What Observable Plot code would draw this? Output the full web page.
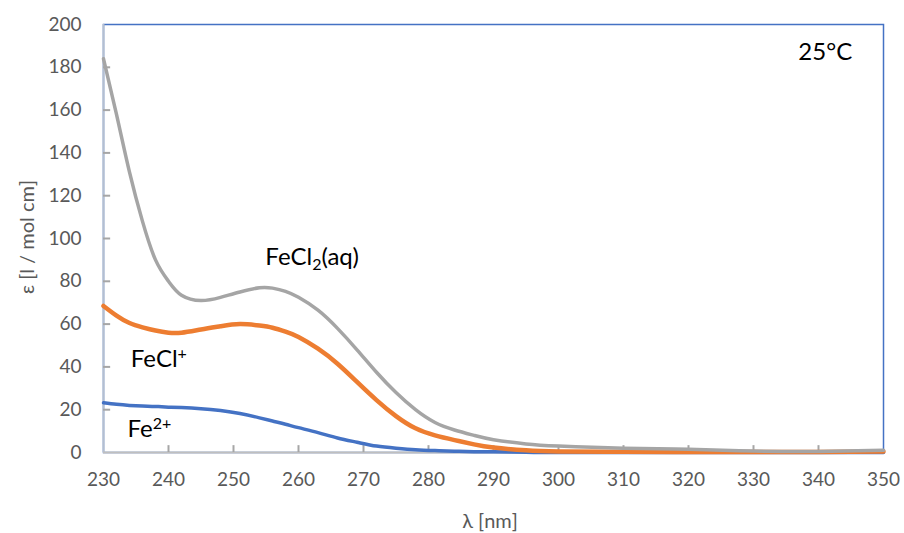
<!DOCTYPE html>
<html>
<head>
<meta charset="utf-8">
<script src="https://cdn.jsdelivr.net/npm/d3@7"></script>
<script src="https://cdn.jsdelivr.net/npm/@observablehq/plot@0.6"></script>
<style>
  html, body { margin: 0; padding: 0; background: #fff; }
  #chart svg { display: block; }
</style>
</head>
<body>
<div id="chart"></div>
<script>
const wavelengths = [230, 232, 234, 236, 238, 240, 242, 245, 248, 251, 254, 256, 258, 260, 263, 266, 269, 272, 275, 278, 281, 284, 287, 290, 295, 300, 310, 320, 330, 340, 350];
const feCl2 = [184, 158, 131, 108, 90, 80, 73.5, 71, 72.5, 75, 77, 76.8, 75.3, 72.5, 66.5, 58, 48, 37.5, 28, 20, 14, 10.5, 8, 6, 4, 3, 2, 1.5, 0.7, 0.5, 1];
const feCl = [68.5, 64, 60.5, 58.5, 57, 56, 56, 57.5, 59, 60, 59.3, 58.3, 56.5, 54, 48.5, 41.5, 33, 24.5, 17, 11.3, 8, 5.8, 3.8, 2.3, 1, 0.5, 0.3, 0.2, 0.2, 0.2, 0.5];
const fe2 = [23.2, 22.5, 22, 21.7, 21.5, 21.2, 21, 20.5, 19.6, 18.2, 16.2, 14.7, 13.2, 11.6, 9.3, 6.8, 4.8, 3.0, 2.0, 1.3, 0.9, 0.6, 0.4, 0.3, 0.1, 0, 0, 0, 0, 0, 0];
const seriesNames = ["FeCl2(aq)", "FeCl+", "Fe2+"];
const seriesColors = ["#a5a5a5", "#ed7d31", "#4472c4"];
const seriesWidths = [3.5, 4.5, 3.5];
const xTicks = [230, 240, 250, 260, 270, 280, 290, 300, 310, 320, 330, 340, 350];
const yTicks = [0, 20, 40, 60, 80, 100, 120, 140, 160, 180, 200];
const labels = [
  {x: 254.9, y: 91, text: "FeCl2(aq)"},
  {x: 234.2, y: 43.5, text: "FeCl+"},
  {x: 233.7, y: 11, text: "Fe2+"},
  {x: 336.9, y: 187, text: "25°C"}
];

const seriesValues = [feCl2, feCl, fe2];
const lineMarks = seriesValues.map((vals, i) =>
  Plot.line(wavelengths.map((w, j) => ({x: w, y: vals[j]})), {
    x: "x", y: "y", stroke: seriesColors[i], strokeWidth: seriesWidths[i], curve: "natural"
  })
).reverse();

const xMin = xTicks[0], yMin = yTicks[0];

const font = "Lato, 'Open Sans', sans-serif";
const chart = Plot.plot({
  width: 904,
  height: 533,
  marginLeft: 103,
  marginRight: 21,
  marginTop: 24,
  marginBottom: 81,
  style: {fontFamily: font, fontSize: "19px", color: "#595959", background: "#fff"},
  x: {domain: [230, 350]},
  y: {domain: [0, 200]},
  marks: [
    Plot.frame({stroke: "#4472c4", strokeWidth: 1.5}),
    Plot.ruleX([230], {stroke: "#b4bfd0", strokeWidth: 2}),
    Plot.ruleY([0], {stroke: "#bfbfbf", strokeWidth: 2}),
    Plot.ruleY(yTicks.slice(1, -1), {y: d => d, x1: xMin, x2: xMin + 1.1, stroke: "#a6a6a6", strokeWidth: 2}),
    Plot.ruleX(xTicks.slice(1, -1), {x: d => d, y1: yMin, y2: yMin + 3.2, stroke: "#a6a6a6", strokeWidth: 2}),
    Plot.axisY({ticks: yTicks, tickSize: 0, tickPadding: 22, label: null, fill: "#595959"}),
    Plot.axisX({ticks: xTicks, tickSize: 0, tickPadding: 20, label: null, fill: "#595959"}),
    ...lineMarks,
    Plot.text(labels, {x: "x", y: "y", text: "text", textAnchor: "start", fill: "#000", fontSize: 24, className: "annot"})
  ]
});

// axis titles
const svg = d3.select(chart);
svg.append("text").attr("x", 490).attr("y", 528).attr("text-anchor", "middle")
  .attr("font-family", font).attr("font-size", 20).attr("fill", "#595959").text("λ [nm]");
svg.append("text").attr("transform", "translate(34,237) rotate(-90)").attr("text-anchor", "middle")
  .attr("font-family", font).attr("font-size", 20).attr("fill", "#595959").text("ε [l / mol cm]");

// rich text for sub/superscripts
svg.selectAll("g.annot text, g[aria-label=text] text").each(function() {
  const t = this.textContent;
  const m = {
    "FeCl2(aq)": [["FeCl", null], ["2", "sub"], ["(aq)", null]],
    "FeCl+": [["FeCl", null], ["+", "sup"]],
    "Fe2+": [["Fe", null], ["2+", "sup"]]
  }[t];
  if (!m) return;
  const el = d3.select(this);
  el.text(null);
  m.forEach(([s, kind]) => {
    const ts = el.append("tspan").text(s);
    if (kind === "sub") ts.attr("font-size", 16).attr("dy", "5");
    if (kind === "sup") ts.attr("font-size", 16).attr("dy", "-8");
    if (kind === null && s === "(aq)") ts.attr("dy", "-5");
  });
});

document.getElementById("chart").appendChild(chart);
</script>
</body>
</html>
